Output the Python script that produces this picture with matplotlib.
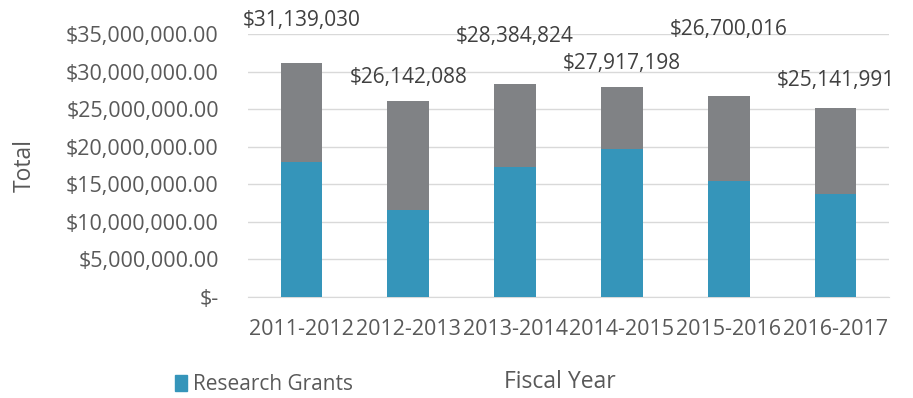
import matplotlib.pyplot as plt
from matplotlib.ticker import FuncFormatter
from matplotlib.patches import Patch

# Дані
years = ["2011-2012", "2012-2013", "2013-2014", "2014-2015", "2015-2016", "2016-2017"]
totals = [31139030, 26142088, 28384824, 27917198, 26700016, 25141991]
research_grants = [17950000, 11600000, 17300000, 19750000, 15450000, 13700000]
other = [t - r for t, r in zip(totals, research_grants)]

# зміщення підписів (пікселі над верхом стовпця), як у ручно розставлених підписах Excel
label_offsets = [43, 23, 47, 24, 67, 28]

blue = "#3595ba"
gray = "#808285"
text_color = "#595959"

plt.rcParams["font.family"] = ["Open Sans", "DejaVu Sans"]

fig = plt.figure(figsize=(9.13, 3.98), dpi=100)
ax = fig.add_axes([0.2716, 0.2538, 0.7021, 0.6608])

x = range(len(years))
ax.bar(x, research_grants, width=0.39, color=blue, zorder=3)
ax.bar(x, other, width=0.39, bottom=research_grants, color=gray, zorder=3)

for i, t in enumerate(totals):
    ax.annotate(f"${t:,.0f}", (i, t), xytext=(0, label_offsets[i] * 0.72),
                textcoords="offset points", ha="center", va="center",
                fontsize=15, color="#404040", annotation_clip=False)

ax.set_xlim(-0.5, len(years) - 0.5)
ax.set_ylim(0, 35000000)
ax.set_yticks(range(0, 35000001, 5000000))
ax.yaxis.set_major_formatter(FuncFormatter(lambda v, p: "$-" if v == 0 else f"${v:,.2f}"))
ax.set_xticks(list(x))
ax.set_xticklabels(years)

ax.grid(axis="y", color="#d9d9d9", linewidth=1, zorder=0)
for s in ["top", "right", "left"]:
    ax.spines[s].set_visible(False)
ax.spines["bottom"].set_color("#d9d9d9")
ax.tick_params(axis="both", length=0, labelsize=15.5, labelcolor=text_color)
ax.tick_params(axis="y", pad=21)
ax.tick_params(axis="x", pad=16)

ax.set_ylabel("Total", fontsize=16.5, color=text_color, labelpad=21)
fig.text(0.613, 0.04, "Fiscal Year", fontsize=16.5, color=text_color, ha="center", va="center")

fig.legend(handles=[Patch(color=blue, label="Research Grants")], loc="center left",
           bbox_to_anchor=(0.192, 0.033), frameon=False, fontsize=15, handlelength=0.55,
           handleheight=0.75, handletextpad=0.3, borderpad=0, borderaxespad=0,
           labelcolor=text_color)

fig.savefig("out.png", dpi=100)
